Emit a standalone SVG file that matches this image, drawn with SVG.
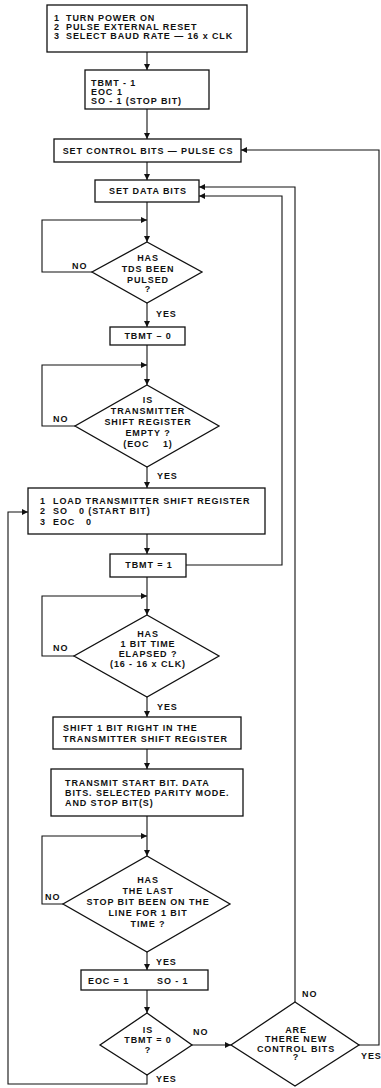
<svg xmlns="http://www.w3.org/2000/svg" width="381" height="1088" viewBox="0 0 381 1088">
<defs>
<marker id="ah" markerUnits="userSpaceOnUse" markerWidth="7" markerHeight="7" refX="6" refY="3" orient="auto">
<path d="M0,0 L6,3 L0,6 z" fill="#111"/>
</marker>
<style>
.n rect, .n polygon { fill: #fff; stroke: #111; stroke-width: 1.3; }
text { font-family: "Liberation Sans", Arial, sans-serif; font-size: 9px; font-weight: bold; letter-spacing: 0.9px; fill: #111; }
.c { text-anchor: middle; }
#connectors path { fill: none; stroke: #111; stroke-width: 1.1; marker-end: url(#ah); }
</style>
</defs>
<rect width="381" height="1088" fill="#fff"/>
<g id="connectors">
<path d="M147,52 V70"/>
<path d="M147,109 V139"/>
<path d="M147,162 V180"/>
<path d="M147,202 V242"/>
<path d="M92,272 H42 V220 H147"/>
<path d="M147,303 V327"/>
<path d="M147,345 V385"/>
<path d="M75,426 H42 V365 H147"/>
<path d="M147,467 V488"/>
<path d="M147,534 V554"/>
<path d="M186,565 H282 V196 H199"/>
<path d="M147,577 V615"/>
<path d="M74,656 H42 V596 H147"/>
<path d="M147,697 V717"/>
<path d="M147,749 V769"/>
<path d="M147,816 V856"/>
<path d="M63,904 H42 V836 H147"/>
<path d="M147,952 V970"/>
<path d="M147,990 V1013"/>
<path d="M192,1045 H231"/>
<path d="M295,1002 V187 H199"/>
<path d="M359,1045 H379 V150 H241"/>
<path d="M147,1075 V1084 H8 V512 H28"/>
</g>
<g id="labels">
<text x="72" y="269">NO</text>
<text x="156" y="317">YES</text>
<text x="53" y="422">NO</text>
<text x="157" y="479">YES</text>
<text x="53" y="651">NO</text>
<text x="157" y="710">YES</text>
<text x="45" y="900">NO</text>
<text x="156" y="965">YES</text>
<text x="193" y="1035">NO</text>
<text x="302" y="997">NO</text>
<text x="361" y="1059">YES</text>
<text x="156" y="1082">YES</text>
</g>
<g id="start" class="n">
<rect x="47" y="5" width="200" height="47"/>
<text x="54" y="21">1</text><text x="66" y="21">TURN POWER ON</text>
<text x="54" y="30">2</text><text x="66" y="30">PULSE EXTERNAL RESET</text>
<text x="54" y="39">3</text><text x="66" y="39">SELECT BAUD RATE — 16 x CLK</text>
</g>
<g id="init" class="n">
<rect x="85" y="70" width="124" height="39"/>
<text x="91" y="86">TBMT - 1</text>
<text x="91" y="95">EOC</text><text x="117" y="95">1</text>
<text x="91" y="104">SO - 1 (STOP BIT)</text>
</g>
<g id="setControl" class="n">
<rect x="54" y="139" width="187" height="23"/>
<text class="c" x="148" y="154">SET CONTROL BITS — PULSE CS</text>
</g>
<g id="setData" class="n">
<rect x="95" y="180" width="104" height="22"/>
<text class="c" x="148" y="194">SET DATA BITS</text>
</g>
<g id="tdsPulsed" class="n">
<polygon points="147,242 202,272 147,303 92,272"/>
<text class="c" x="148" y="261">HAS</text>
<text class="c" x="148" y="272">TDS BEEN</text>
<text class="c" x="148" y="283">PULSED</text>
<text class="c" x="148" y="292">?</text>
</g>
<g id="tbmt0" class="n">
<rect x="110" y="327" width="75" height="18"/>
<text class="c" x="148" y="339">TBMT – 0</text>
</g>
<g id="tsrEmpty" class="n">
<polygon points="147,385 219,426 147,467 75,426"/>
<text class="c" x="148" y="403">IS</text>
<text class="c" x="148" y="414">TRANSMITTER</text>
<text class="c" x="148" y="425">SHIFT REGISTER</text>
<text class="c" x="148" y="436">EMPTY ?</text>
<text class="c" x="148" y="447" xml:space="preserve">(EOC    1)</text>
</g>
<g id="load" class="n">
<rect x="28" y="488" width="237" height="46"/>
<text x="40" y="504">1</text><text x="53" y="504">LOAD TRANSMITTER SHIFT REGISTER</text>
<text x="40" y="514">2</text><text x="53" y="514">SO</text><text x="79" y="514">0 (START BIT)</text>
<text x="40" y="525">3</text><text x="53" y="525">EOC</text><text x="86" y="525">0</text>
</g>
<g id="tbmt1" class="n">
<rect x="110" y="554" width="76" height="23"/>
<text class="c" x="149" y="568">TBMT = 1</text>
</g>
<g id="bitTime" class="n">
<polygon points="147,615 219,656 147,697 74,656"/>
<text class="c" x="148" y="637">HAS</text>
<text class="c" x="148" y="647">1 BIT TIME</text>
<text class="c" x="148" y="657">ELAPSED ?</text>
<text class="c" x="148" y="667">(16 - 16 x CLK)</text>
</g>
<g id="shift" class="n">
<rect x="53" y="717" width="188" height="32"/>
<text x="63" y="731">SHIFT 1 BIT RIGHT IN THE</text>
<text x="63" y="742">TRANSMITTER SHIFT REGISTER</text>
</g>
<g id="transmit" class="n">
<rect x="51" y="769" width="192" height="47"/>
<text x="65" y="786">TRANSMIT START BIT. DATA</text>
<text x="65" y="796">BITS. SELECTED PARITY MODE.</text>
<text x="65" y="806">AND STOP BIT(S)</text>
</g>
<g id="lastStop" class="n">
<polygon points="147,856 230,904 147,952 63,904"/>
<text class="c" x="148" y="883">HAS</text>
<text class="c" x="148" y="894">THE LAST</text>
<text class="c" x="148" y="905">STOP BIT BEEN ON THE</text>
<text class="c" x="148" y="916">LINE FOR 1 BIT</text>
<text class="c" x="148" y="927">TIME ?</text>
</g>
<g id="eocSo" class="n">
<rect x="81" y="970" width="127" height="20"/>
<text x="88" y="984">EOC = 1</text><text x="157" y="984">SO - 1</text>
</g>
<g id="isTbmt0" class="n">
<polygon points="147,1013 192,1045 147,1075 100,1045"/>
<text class="c" x="148" y="1033">IS</text>
<text class="c" x="148" y="1043">TBMT = 0</text>
<text class="c" x="148" y="1053">?</text>
</g>
<g id="newControl" class="n">
<polygon points="295,1002 359,1045 295,1086 231,1045"/>
<text class="c" x="296" y="1033">ARE</text>
<text class="c" x="296" y="1042">THERE NEW</text>
<text class="c" x="296" y="1052">CONTROL BITS</text>
<text class="c" x="296" y="1060">?</text>
</g>
</svg>
